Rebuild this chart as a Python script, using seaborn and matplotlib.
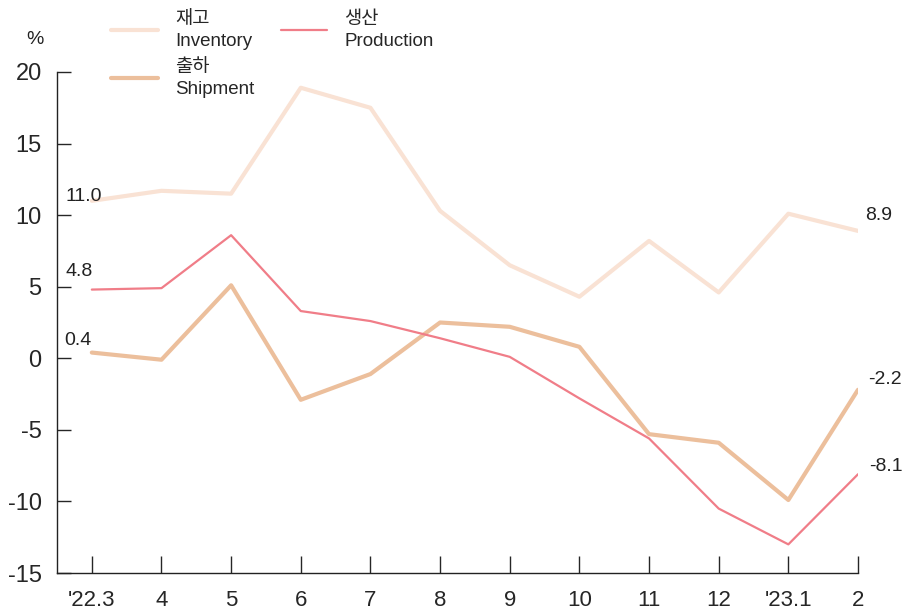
import numpy as np
import pandas as pd
import matplotlib.pyplot as plt
import seaborn as sns

# chart data (y/y change, %)
months = ["'22.3", "4", "5", "6", "7", "8", "9", "10", "11", "12", "'23.1", "2"]
inventory = [11.0, 11.7, 11.5, 18.9, 17.5, 10.3, 6.5, 4.3, 8.2, 4.6, 10.1, 8.9]
shipment = [0.4, -0.1, 5.1, -2.9, -1.1, 2.5, 2.2, 0.8, -5.3, -5.9, -9.9, -2.2]
production = [4.8, 4.9, 8.6, 3.3, 2.6, 1.4, 0.1, -2.8, -5.6, -10.5, -13.0, -8.1]

series_names = ["재고\nInventory", "출하\nShipment", "생산\nProduction"]
colors = ["#F9E2D4", "#ECBF9C", "#F07D88"]
widths = [3.0, 3.0, 1.6]

sns.set_style("ticks")
plt.rcParams['font.family'] = ['Liberation Sans', 'Noto Sans CJK KR', 'DejaVu Sans']
plt.rcParams['axes.unicode_minus'] = False

fig = plt.figure(figsize=(9.03, 6.12), dpi=100)
ax = fig.add_axes([57 / 903, 39 / 612, 801 / 903, 501 / 612])

x = np.arange(len(months))
for name, vals, c, w in zip(series_names, [inventory, shipment, production], colors, widths):
    df = pd.DataFrame({'x': x, 'v': vals})
    sns.lineplot(data=df, x='x', y='v', ax=ax, color=c, linewidth=w, label=name)

ax.set_xlim(-0.5, len(months) - 1)
ax.set_ylim(-15, 20)
ax.set_yticks(range(-15, 21, 5))
ax.set_xticks(x)
ax.set_xticklabels(months, fontsize=16)
ax.tick_params(axis='y', direction='in', length=10, width=1, pad=11, labelsize=17)
ax.tick_params(axis='x', direction='in', length=12, width=1, pad=12)
ax.set_xlabel("")
ax.set_ylabel("")
for s in ['top', 'right']:
    ax.spines[s].set_visible(False)
for s in ['left', 'bottom']:
    ax.spines[s].set_color('#222222')
    ax.spines[s].set_linewidth(1.0)

# end labels
lab_font = dict(fontsize=14, color='#222222')
ax.annotate(f"{inventory[0]:.1f}", (0, inventory[0]), xytext=(-26, 4), textcoords='offset pixels', ha='left', va='center', **lab_font)
ax.annotate(f"{production[0]:.1f}", (0, production[0]), xytext=(-26, 18), textcoords='offset pixels', ha='left', va='center', **lab_font)
ax.annotate(f"{shipment[0]:.1f}", (0, shipment[0]), xytext=(-28, 12), textcoords='offset pixels', ha='left', va='center', **lab_font)
ax.annotate(f"{inventory[-1]:.1f}", (x[-1], inventory[-1]), xytext=(7, 15), textcoords='offset pixels', ha='left', va='center', **lab_font)
ax.annotate(f"{shipment[-1]:.1f}", (x[-1], shipment[-1]), xytext=(10, 10), textcoords='offset pixels', ha='left', va='center', **lab_font)
ax.annotate(f"{production[-1]:.1f}", (x[-1], production[-1]), xytext=(11, 8), textcoords='offset pixels', ha='left', va='center', **lab_font)

ax.text(-0.027, 1.064, "%", transform=ax.transAxes, ha='center', va='center', fontsize=14, color='#222222')

handles, labels = ax.get_legend_handles_labels()
ax.get_legend().remove()
leg = fig.legend(handles, labels, loc='upper left', bbox_to_anchor=(100 / 903, 1.0), ncol=2,
                 frameon=False, fontsize=13.5, handlelength=2.5, handletextpad=0.9,
                 columnspacing=1.4, labelspacing=0.5, borderaxespad=0.2)
for t in leg.get_texts():
    t.set_linespacing(1.35)

fig.savefig("out.png", dpi=100)
